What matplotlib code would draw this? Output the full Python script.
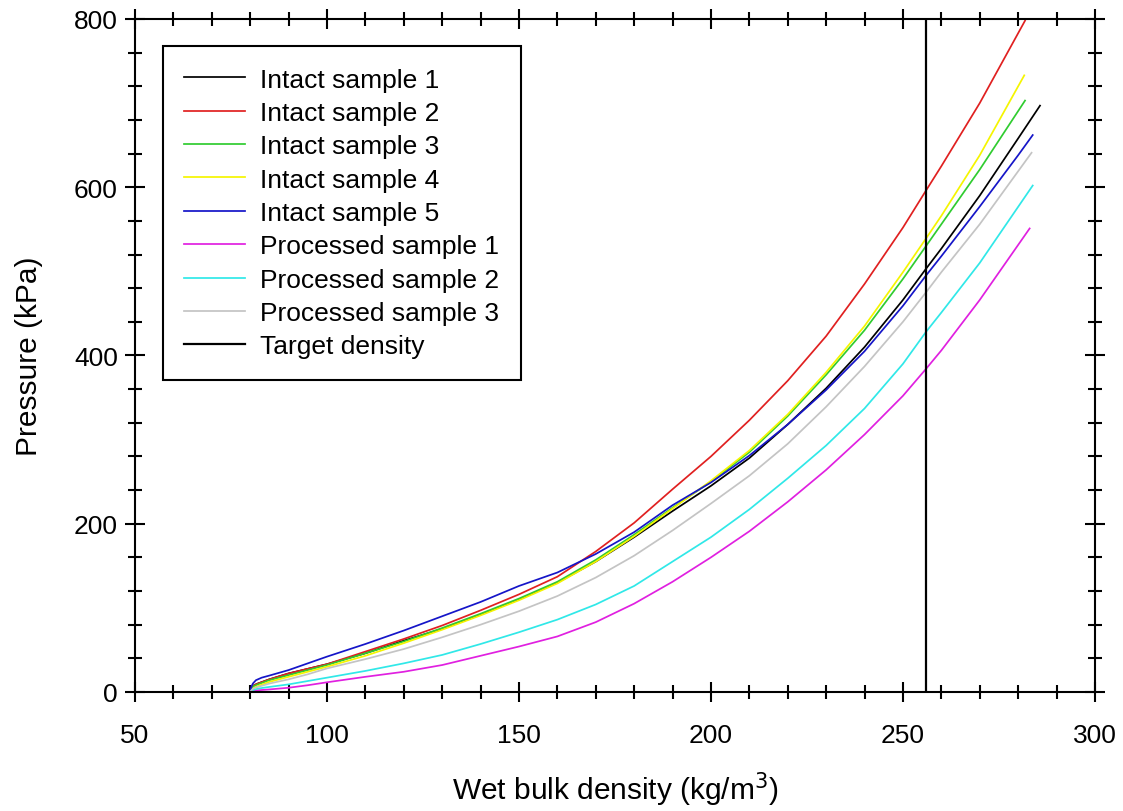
import matplotlib
matplotlib.use("Agg")
import matplotlib.pyplot as plt
from matplotlib.ticker import MultipleLocator

plt.rcParams['font.family'] = ['Liberation Sans', 'DejaVu Sans']

# ---- data ----
x_i1 = [80, 80.5, 81, 82, 85, 90, 95, 100, 110, 120, 130, 140, 150, 160, 170, 180, 190, 200,
        210, 220, 230, 240, 250, 256, 260, 270, 280, 285.7]
y_i1 = [0, 5, 8, 10, 15, 22, 27.5, 33, 46, 61, 75, 92, 110, 130, 155, 184, 215, 245,
        278, 318, 361, 410, 466, 503, 527, 590, 658, 697]

x_i2 = [80, 80.5, 81, 82, 85, 90, 95, 100, 110, 120, 130, 140, 150, 160, 170, 180, 190, 200,
        210, 220, 230, 240, 250, 256, 260, 270, 281.8]
y_i2 = [0, 5, 8, 10, 15, 22, 27.5, 33, 48, 63, 79, 97, 116, 137, 167, 201, 241, 280,
        323, 370, 423, 485, 552, 596, 625, 700, 798]

x_i3 = [80, 80.5, 81, 82, 85, 90, 95, 100, 110, 120, 130, 140, 150, 160, 170, 180, 190, 200,
        210, 220, 230, 240, 250, 256, 260, 270, 281.8]
y_i3 = [0, 5, 7, 9, 14, 20, 26, 32, 46, 60, 76, 93, 111, 131, 157, 187, 219, 250,
        285, 328, 377, 430, 491, 530, 556, 621, 703]

x_i4 = [80, 80.5, 81, 82, 85, 90, 95, 100, 110, 120, 130, 140, 150, 160, 170, 180, 190, 200,
        210, 220, 230, 240, 250, 256, 260, 270, 281.6]
y_i4 = [0, 3, 5, 7, 12, 18, 24, 30, 43, 58, 74, 91, 109, 129, 155, 185, 218, 251,
        287, 330, 380, 435, 499, 539, 566, 638, 733]

x_i5 = [80, 80.3, 80.7, 81.5, 83, 85, 90, 95, 100, 110, 120, 130, 140, 150, 160, 170, 180, 190,
        200, 210, 220, 230, 240, 250, 256, 260, 270, 280, 283.8]
y_i5 = [0, 6, 10, 14, 17, 19.5, 26, 34, 42, 57, 73, 90, 107, 126, 142, 164, 190, 222,
        249, 281, 318, 359, 405, 459, 495, 518, 577, 638, 662]

x_p1 = [80, 80.5, 82, 85, 90, 95, 100, 110, 120, 130, 140, 150, 160, 170, 180, 190, 200,
        210, 220, 230, 240, 250, 256, 260, 270, 283]
y_p1 = [0, 1, 2, 3, 5, 8, 11.5, 18, 24, 32, 43, 54, 66, 83, 105, 131, 160,
        191, 226, 264, 306, 352, 384, 406, 466, 551]

x_p2 = [80, 80.5, 82, 85, 90, 95, 100, 110, 120, 130, 140, 150, 160, 170, 180, 190, 200,
        210, 220, 230, 240, 250, 256, 260, 270, 283.8]
y_p2 = [0, 2, 4, 6, 9, 13, 17, 25, 34, 44, 57, 71, 86, 104, 126, 155, 184,
        217, 254, 293, 337, 390, 428, 451, 510, 602]

x_p3 = [80, 80.5, 81, 82, 85, 90, 95, 100, 110, 120, 130, 140, 150, 160, 170, 180, 190, 200,
        210, 220, 230, 240, 250, 256, 260, 270, 283.5]
y_p3 = [0, 3, 4.5, 6, 10, 15, 21, 28, 39, 51, 65, 80, 96, 114, 136, 162, 192, 224,
        257, 295, 339, 387, 440, 475, 499, 556, 641]

target_density = 256

labels = ["Intact sample 1", "Intact sample 2", "Intact sample 3", "Intact sample 4",
          "Intact sample 5", "Processed sample 1", "Processed sample 2",
          "Processed sample 3", "Target density"]
colors = ["#000000", "#e02020", "#30cc30", "#f5f500", "#1515c8",
          "#e020e0", "#30e8e8", "#c4c4c4", "#000000"]

series = [(x_i1, y_i1), (x_i2, y_i2), (x_i3, y_i3), (x_i4, y_i4), (x_i5, y_i5),
          (x_p1, y_p1), (x_p2, y_p2), (x_p3, y_p3)]

fig = plt.figure(figsize=(11.23, 8.12), dpi=100)
ax = fig.add_axes([0.1202, 0.1466, 0.975 - 0.1202, 0.9754 - 0.1466])

handles = []
for (xs, ys), c, lab in zip(series, colors[:8], labels[:8]):
    h, = ax.plot(xs, ys, color=c, lw=1.25, label=lab, solid_joinstyle='round')
    handles.append(h)
h = ax.axvline(target_density, color=colors[8], lw=1.6, label=labels[8])
handles.append(h)

ax.set_xlim(50, 300)
ax.set_ylim(0, 800)
ax.xaxis.set_major_locator(MultipleLocator(50))
ax.xaxis.set_minor_locator(MultipleLocator(10))
ax.yaxis.set_major_locator(MultipleLocator(200))
ax.yaxis.set_minor_locator(MultipleLocator(40))

for s in ax.spines.values():
    s.set_linewidth(1.5)

ax.tick_params(which='both', direction='inout', top=True, right=True,
               labelsize=19, width=1.5)
ax.tick_params(which='major', length=14.5)
ax.tick_params(which='minor', length=9.5)
ax.tick_params(axis='x', which='major', pad=15)
ax.tick_params(axis='y', which='major', pad=5)

ax.set_xlabel("Wet bulk density (kg/m$^3$)", fontsize=21.5, labelpad=16)
ax.set_ylabel("Pressure (kPa)", fontsize=21.5, labelpad=22)

leg = ax.legend(handles=handles, loc='upper left', bbox_to_anchor=(0.029, 0.96),
                fontsize=19, frameon=True, fancybox=False, framealpha=1,
                edgecolor='black', labelspacing=0.355, handlelength=2.3,
                handletextpad=0.57, borderpad=0.82, borderaxespad=0)
leg.get_frame().set_linewidth(1.5)

fig.savefig("out.png", dpi=100)
